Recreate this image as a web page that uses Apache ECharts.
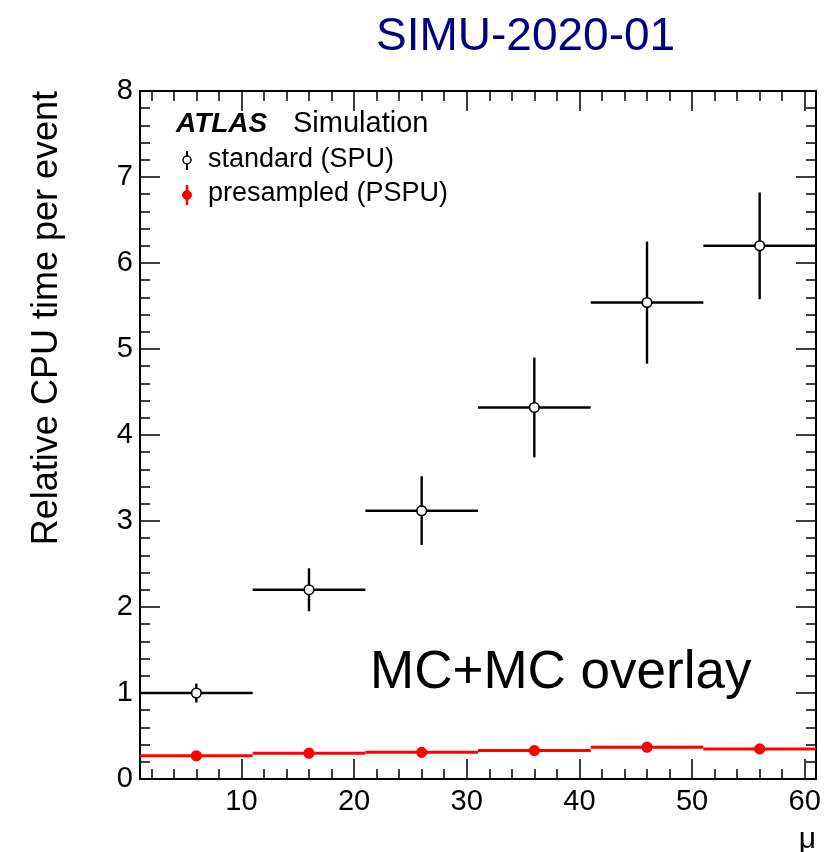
<!DOCTYPE html>
<html>
<head>
<meta charset="utf-8">
<script src="https://cdn.jsdelivr.net/npm/echarts@6/dist/echarts.min.js"></script>
<style>
  html, body { margin: 0; padding: 0; background: #fff; }
  #chart { width: 832px; height: 852px; }
</style>
</head>
<body>
<div id="chart"></div>
<script>
// bin centres in mu, each bin is 10 wide
const muCenters = [6, 16, 26, 36, 46, 56];
const binHalf = 5;
// standard pile-up (SPU), relative CPU time and its error
const spuValues = [1.0, 2.2, 3.12, 4.32, 5.54, 6.2];
const spuErrors = [0.11, 0.25, 0.4, 0.58, 0.71, 0.62];
// presampled pile-up (PSPU)
const pspuValues = [0.27, 0.3, 0.31, 0.33, 0.37, 0.35];
const pspuErrors = [0.02, 0.02, 0.02, 0.02, 0.02, 0.02];

const xMajorTicks = [10, 20, 30, 40, 50, 60];
const xMinorTicks = [2, 4, 6, 8, 12, 14, 16, 18, 22, 24, 26, 28, 32, 34, 36, 38,
  42, 44, 46, 48, 52, 54, 56, 58];

const FONT = '"Liberation Sans", Arial, Helvetica, sans-serif';

const chart = echarts.init(document.getElementById('chart'));

function histPoints(color, fill) {
  return function (params, api) {
    const x = api.value(0);
    const y = api.value(1);
    const e = api.value(2);
    const l = api.coord([x - binHalf, y]);
    const r = api.coord([x + binHalf, y]);
    const t = api.coord([x, y + e]);
    const b = api.coord([x, y - e]);
    const c = api.coord([x, y]);
    const lw = color === '#000' ? 2.4 : 3;
    return {
      type: 'group',
      children: [
        {type: 'line', shape: {x1: l[0], y1: l[1], x2: r[0], y2: r[1]}, style: {stroke: color, lineWidth: lw}},
        {type: 'line', shape: {x1: t[0], y1: t[1], x2: b[0], y2: b[1]}, style: {stroke: color, lineWidth: lw}},
        {type: 'circle', shape: {cx: c[0], cy: c[1], r: 4.8}, style: {fill: fill, stroke: color, lineWidth: 1.6}}
      ]
    };
  };
}

const axisLine = {show: true, lineStyle: {color: '#000', width: 2}};
function xAx(pos, ticks, len, labels) {
  return {
    type: 'value', min: 1, max: 61, position: pos,
    axisLine: axisLine,
    axisTick: {show: true, inside: true, length: len, customValues: ticks, lineStyle: {color: '#000', width: 1.5}},
    axisLabel: labels ? {show: true, customValues: ticks, fontSize: 29, fontFamily: FONT, color: '#000', margin: 8} : {show: false},
    splitLine: {show: false}
  };
}
function yAx(pos, labels) {
  return {
    type: 'value', min: 0, max: 8, interval: 1, position: pos,
    axisLine: axisLine,
    axisTick: {show: true, inside: true, length: 20, lineStyle: {color: '#000', width: 1.5}},
    minorTick: {show: true, splitNumber: 5, length: 10, lineStyle: {color: '#000', width: 1.5}},
    axisLabel: labels ? {show: true, fontSize: 29, fontFamily: FONT, color: '#000', margin: 7} : {show: false},
    splitLine: {show: false}
  };
}

chart.setOption({
  animation: false,
  backgroundColor: '#fff',
  title: {
    text: 'SIMU-2020-01',
    left: 371, top: 9,
    textStyle: {color: '#000080', fontSize: 46, fontWeight: 'normal', fontFamily: FONT}
  },
  grid: {left: 140, top: 91, width: 676, height: 688},
  xAxis: [
    xAx('bottom', xMajorTicks, 20, true),
    xAx('bottom', xMinorTicks, 10, false),
    xAx('top', xMajorTicks, 20, false),
    xAx('top', xMinorTicks, 10, false)
  ],
  yAxis: [yAx('left', true), yAx('right', false)],
  series: [
    {
      name: 'standard (SPU)',
      type: 'custom',
      clip: true,
      renderItem: histPoints('#000', '#fff'),
      data: muCenters.map((m, i) => [m, spuValues[i], spuErrors[i]]),
      z: 3
    },
    {
      name: 'presampled (PSPU)',
      type: 'custom',
      clip: true,
      renderItem: histPoints('#ff0000', '#ff0000'),
      data: muCenters.map((m, i) => [m, pspuValues[i], pspuErrors[i]]),
      z: 2
    }
  ],
  graphic: [
    {
      type: 'text', x: 47, y: 91, rotation: Math.PI / 2,
      style: {text: 'Relative CPU time per event', font: '36px ' + FONT, fill: '#000', textAlign: 'right', textVerticalAlign: 'middle'}
    },
    {
      type: 'text', x: 816, y: 840,
      style: {text: 'μ', font: '30px ' + FONT, fill: '#000', textAlign: 'right', textVerticalAlign: 'middle'}
    },
    {
      type: 'text', x: 370, y: 673,
      style: {text: 'MC+MC overlay', font: '53px ' + FONT, fill: '#000', textAlign: 'left', textVerticalAlign: 'middle'}
    },
    {
      type: 'text', x: 176, y: 124,
      style: {text: 'ATLAS', font: 'italic bold 28px ' + FONT, fill: '#000', textAlign: 'left', textVerticalAlign: 'middle'}
    },
    {
      type: 'text', x: 293, y: 124,
      style: {text: 'Simulation', font: '29px ' + FONT, fill: '#000', textAlign: 'left', textVerticalAlign: 'middle'}
    },
    // legend entries
    {type: 'line', shape: {x1: 187, y1: 151, x2: 187, y2: 170}, style: {stroke: '#000', lineWidth: 2}},
    {type: 'circle', shape: {cx: 187, cy: 160, r: 4}, style: {fill: '#fff', stroke: '#000', lineWidth: 1.5}},
    {
      type: 'text', x: 208, y: 160,
      style: {text: 'standard (SPU)', font: '27px ' + FONT, fill: '#000', textAlign: 'left', textVerticalAlign: 'middle'}
    },
    {type: 'line', shape: {x1: 187, y1: 185, x2: 187, y2: 205}, style: {stroke: '#ff0000', lineWidth: 2.5}},
    {type: 'circle', shape: {cx: 187, cy: 195, r: 4.5}, style: {fill: '#ff0000', stroke: '#ff0000', lineWidth: 1}},
    {
      type: 'text', x: 208, y: 194,
      style: {text: 'presampled (PSPU)', font: '27px ' + FONT, fill: '#000', textAlign: 'left', textVerticalAlign: 'middle'}
    }
  ]
});
</script>
</body>
</html>
